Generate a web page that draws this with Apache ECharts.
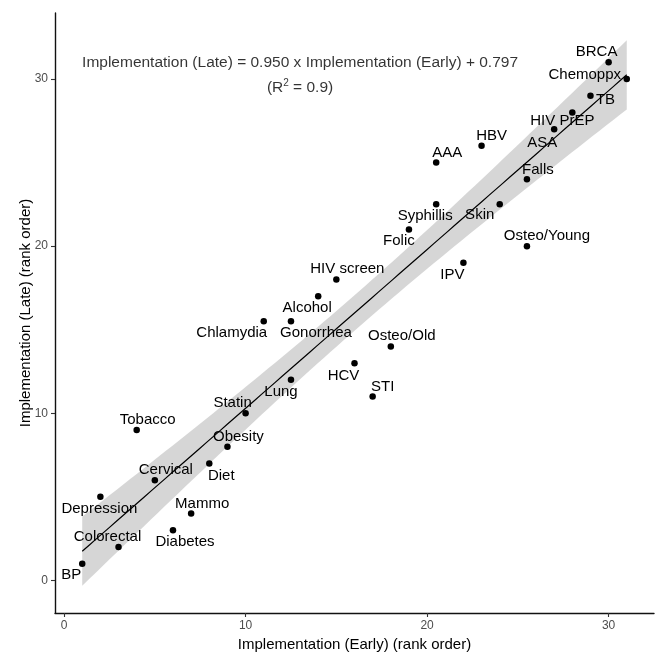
<!DOCTYPE html>
<html>
<head>
<meta charset="utf-8">
<script src="https://cdn.jsdelivr.net/npm/echarts@6/dist/echarts.min.js"></script>
<style>
html,body{margin:0;padding:0;background:#fff;}
#chart{width:662px;height:655px;}
</style>
</head>
<body>
<div id="chart"></div>
<script>
// ---- data ----
const categories = ["BP","Colorectal","Depression","Diabetes","Mammo","Cervical","Diet","Obesity","Tobacco","Statin",
  "Lung","Chlamydia","Gonorrhea","Alcohol","HIV screen","IPV","Osteo/Young","Folic","Syphillis","Skin",
  "Falls","AAA","HBV","ASA","HIV PrEP","TB","BRCA","Chemoppx","Osteo/Old","HCV","STI"];
const earlyRank = [1,3,2,6,7,5,8,9,4,10,12.5,11,12.5,14,15,22,25.5,19,20.5,24,25.5,20.5,23,27,28,29,30,31,18,16,17];
const lateRank  = [1,2,5,3,4,6,7,8,9,10,12,15.5,15.5,17,18,19,20,21,22.5,22.5,24,25,26,27,28,29,31,30,14,13,11];
const xTicks = [0,10,20,30];
const yTicks = [0,10,20,30];
const xTitle = "Implementation (Early) (rank order)";
const yTitle = "Implementation (Late) (rank order)";

// ---- label layout (pixel offsets from point) ----
const labelOffsets = {
  "BP":[-11,11],"Colorectal":[-11,-10],"Depression":[-1,12],"Diabetes":[12,12],"Mammo":[11,-10],
  "Cervical":[11,-10],"Diet":[12,12],"Obesity":[11,-10],"Tobacco":[11,-10],"Statin":[-13,-10],
  "Lung":[-10,12],"Chlamydia":[-32,12],"Gonorrhea":[25,12],"Alcohol":[-11,12],"HIV screen":[11,-11],
  "IPV":[-11,12],"Osteo/Young":[20,-10],"Folic":[-10,11],"Syphillis":[-11,11.5],"Skin":[-20,10.5],
  "Falls":[11,-9.5],"AAA":[11,-9.5],"HBV":[10,-10],"ASA":[-12,14],"HIV PrEP":[-10,8.5],
  "TB":[15,4],"BRCA":[-12,-10.5],"Chemoppx":[-42,-4.5],"Osteo/Old":[11,-11],"HCV":[-11,12.5],"STI":[10,-10]
};

// ---- linear model (OLS) fitted from the data, with 95% confidence band ----
const n = earlyRank.length;
const mx = earlyRank.reduce((a,b)=>a+b,0)/n;
const my = lateRank.reduce((a,b)=>a+b,0)/n;
let sxx=0, sxy=0, syy=0;
for (let i=0;i<n;i++){ const dx=earlyRank[i]-mx, dy=lateRank[i]-my; sxx+=dx*dx; sxy+=dx*dy; syy+=dy*dy; }
const slope = sxy/sxx;
const intercept = my - slope*mx;
const rss = syy - slope*sxy;
const sres = Math.sqrt(rss/(n-2));
const r2 = 1 - rss/syy;
const tcrit = 2.04523; // t(0.975, df = 29)
const xmin = Math.min(...earlyRank), xmax = Math.max(...earlyRank);
const fitX = [], fitY = [], upper = [], lower = [];
for (let k=0;k<80;k++){
  const x = xmin + (xmax-xmin)*k/79;
  const y = intercept + slope*x;
  const se = sres*Math.sqrt(1/n + (x-mx)*(x-mx)/sxx);
  fitX.push(x); fitY.push(y); upper.push(y+tcrit*se); lower.push(y-tcrit*se);
}
const eqText = "Implementation (Late) = " + slope.toFixed(3) + " x Implementation (Early) + " + intercept.toFixed(3);
const r2Text = "{a|(R}{s|2}{a| = " + r2.toFixed(1) + ")}";

const FONT = "'Liberation Sans', Arial, Helvetica, sans-serif";

const points = categories.map((name,i)=>({
  name: name,
  value: [earlyRank[i], lateRank[i]],
  label: { offset: labelOffsets[name] || [0,-11] }
}));

const chart = echarts.init(document.getElementById('chart'), null, {renderer:'canvas'});
chart.setOption({
  animation: false,
  backgroundColor: '#fff',
  grid: { left: 55, right: 8, top: 13, bottom: 42, containLabel: false, outerBoundsMode: 'none' },
  xAxis: {
    type: 'value', min: -0.5, max: 32.5,
    splitLine: { show: false },
    axisLine: { onZero: false, lineStyle: { color: '#111', width: 1.4 } },
    axisTick: { show: true, length: 4, lineStyle: { color: '#333', width: 1.1 }, customValues: xTicks },
    axisLabel: { color: '#4d4d4d', fontSize: 12, fontFamily: FONT, margin: 7, customValues: xTicks },
    name: xTitle, nameLocation: 'middle', nameGap: 24, nameMoveOverlap: false,
    nameTextStyle: { color: '#000', fontSize: 15, fontFamily: FONT }
  },
  yAxis: {
    type: 'value', min: -1.95, max: 33.95,
    splitLine: { show: false },
    axisLine: { onZero: false, lineStyle: { color: '#111', width: 1.4 } },
    axisTick: { show: true, length: 4, lineStyle: { color: '#333', width: 1.1 }, customValues: yTicks },
    axisLabel: { color: '#4d4d4d', fontSize: 12, fontFamily: FONT, margin: 7, customValues: yTicks },
    name: yTitle, nameLocation: 'middle', nameGap: 22, nameMoveOverlap: false,
    nameTextStyle: { color: '#000', fontSize: 15, fontFamily: FONT }
  },
  series: [
    {
      type: 'custom', z: 1, silent: true,
      data: [[fitX[0], fitY[0]]],
      renderItem: function(params, api){
        const pts = [];
        for (let i=0;i<fitX.length;i++) pts.push(api.coord([fitX[i], upper[i]]));
        for (let i=fitX.length-1;i>=0;i--) pts.push(api.coord([fitX[i], lower[i]]));
        return { type: 'polygon', shape: { points: pts }, style: { fill: 'rgba(153,153,153,0.4)' } };
      }
    },
    {
      type: 'line', z: 2, silent: true, showSymbol: false,
      data: fitX.map((x,i)=>[x, fitY[i]]),
      lineStyle: { color: '#000', width: 1.2 }
    },
    {
      type: 'scatter', z: 3, silent: true,
      data: points, symbolSize: 6.5,
      itemStyle: { color: '#000', opacity: 1 },
      label: { show: true, position: 'inside', formatter: '{b}', color: '#000',
        fontSize: 15, fontFamily: FONT, align: 'center', verticalAlign: 'middle' }
    },
    {
      type: 'scatter', z: 4, silent: true, symbolSize: 0,
      data: [[13, 31]],
      label: { show: true, position: 'inside', formatter: eqText, color: '#000',
        fontSize: 15.5, fontFamily: FONT, align: 'center', verticalAlign: 'middle' }
    },
    {
      type: 'scatter', z: 4, silent: true, symbolSize: 0,
      data: [[13, 29.45]],
      label: { show: true, position: 'inside', formatter: r2Text, color: '#000',
        align: 'center', verticalAlign: 'middle',
        rich: {
          a: { fontSize: 15.5, fontFamily: FONT, color: '#000', lineHeight: 20 },
          s: { fontSize: 10, fontFamily: FONT, color: '#000', lineHeight: 20, verticalAlign: 'top', padding: [0,0,6,0] }
        }
      }
    }
  ]
});
</script>
</body>
</html>
